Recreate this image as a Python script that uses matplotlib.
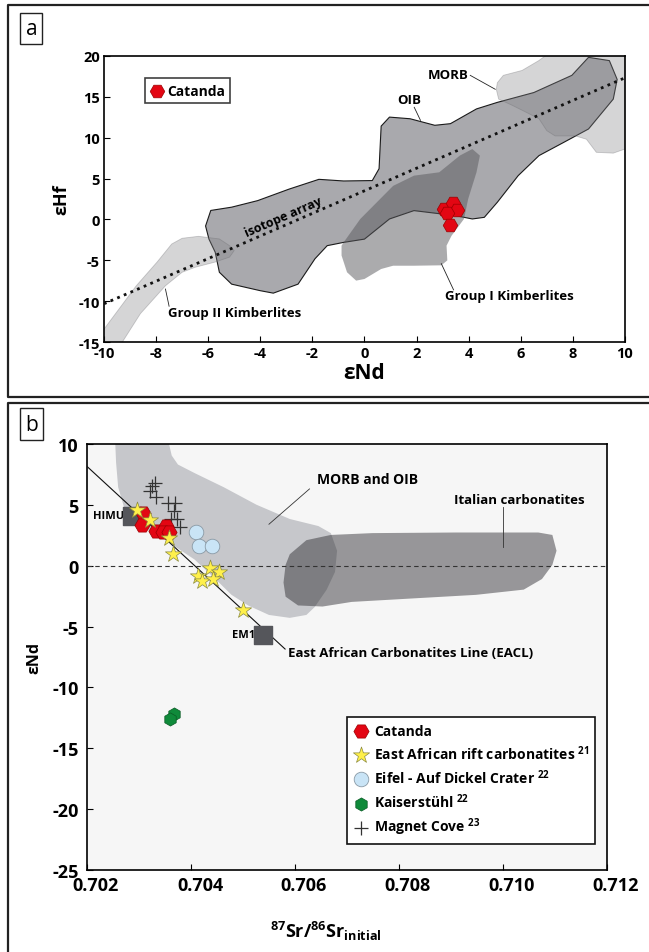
import numpy as np
import matplotlib.pyplot as plt
from matplotlib.patches import Polygon
from matplotlib.lines import Line2D
import matplotlib.transforms as mtransforms

plt.rcParams['font.family'] = ['Open Sans', 'DejaVu Sans']
plt.rcParams['mathtext.fontset'] = 'custom'
plt.rcParams['mathtext.rm'] = 'Open Sans:bold'
plt.rcParams['mathtext.bf'] = 'Open Sans:bold'
plt.rcParams['axes.unicode_minus'] = False

# ---------------- panel a data (eNd vs eHf) ----------------
oib_field = [(-6.1, -0.8), (-5.9, 1.1), (-5.1, 1.5), (-4.1, 2.3), (-2.9, 3.7), (-1.75, 4.9),
             (-0.8, 4.7), (0.3, 4.75), (0.56, 6.2), (0.64, 11.4), (0.96, 12.5), (1.75, 12.3),
             (2.7, 11.5), (3.3, 11.7), (4.3, 13.5), (5.1, 14.3), (6.5, 15.5), (7.96, 17.6),
             (8.6, 19.8), (9.4, 19.4), (9.7, 17.1), (9.55, 14.7), (8.6, 11.05), (7.64, 9.4),
             (6.7, 7.8), (5.9, 5.35), (5.1, 2.1), (4.6, 0.26), (4.14, 0.06), (3.5, 0.46),
             (1.9, 1.08), (0.96, 0.06), (0.0, -2.4), (-0.8, -2.8), (-1.43, -3.2), (-1.9, -4.8),
             (-2.55, -7.9), (-3.5, -9.0), (-4.0, -8.7), (-5.1, -7.9), (-5.57, -6.45),
             (-5.73, -4.0), (-5.97, -2.4)]
group1_field = [(-0.8, -2.8), (-0.16, 0.06), (1.1, 4.1), (1.9, 5.35), (2.87, 5.76), (3.66, 7.8),
                (4.14, 8.6), (4.43, 7.8), (4.3, 5.76), (3.98, 2.5), (3.82, 0.06), (3.34, -2.0),
                (3.15, -3.2), (3.18, -5.0), (2.95, -5.6), (1.9, -5.65), (1.1, -5.65),
                (0.64, -6.05), (0.0, -7.27), (-0.32, -7.47), (-0.67, -6.45), (-0.88, -4.4),
                (-0.88, -3.2)]
morb_field = [(5.1, 16.7), (5.33, 17.6), (6.05, 18.2), (6.69, 19.4), (7.17, 20.5), (10.5, 20.5),
              (10.5, 8.6), (10.0, 8.6), (9.55, 8.1), (8.9, 8.2), (8.52, 9.8), (8.1, 10.2),
              (7.32, 10.2), (7.0, 10.84), (6.7, 12.3), (5.7, 13.9), (5.15, 14.7), (5.06, 15.9)]
group2_field = [(-10.5, -12.5), (-10.0, -13.4), (-8.76, -8.1), (-7.96, -5.2), (-7.4, -3.0),
                (-7.0, -2.3), (-6.37, -2.06), (-5.57, -2.38), (-5.18, -3.2), (-5.0, -3.8),
                (-5.18, -4.6), (-5.73, -5.2), (-6.5, -5.84), (-7.0, -6.45), (-7.64, -8.1),
                (-8.6, -11.5), (-9.4, -15.5), (-10.5, -15.5)]
array_nd = [-10, 10]
array_hf = [-10.3, 17.3]
catanda_nd_a = [3.04, 3.40, 3.57, 3.17, 3.30]
catanda_hf_a = [1.24, 1.97, 1.15, 0.83, -0.72]

# ---------------- panel b data (Sr vs eNd) ----------------
morb_oib_field = [(0.70254, 10.5), (0.70355, 10.5), (0.70363, 9.04), (0.70375, 8.3), (0.70407, 7.6),
                  (0.70463, 6.44), (0.70526, 5.0), (0.7059, 3.83), (0.70645, 3.25), (0.70669, 2.67),
                  (0.70681, 1.22), (0.70677, -0.52), (0.70661, -1.97), (0.70638, -3.4),
                  (0.70622, -4.05), (0.7059, -4.29), (0.7055, -4.05), (0.7051, -3.27),
                  (0.70478, -2.4), (0.70447, -1.1), (0.70407, 0.5), (0.70351, 2.09),
                  (0.70303, 3.25), (0.70272, 4.7), (0.7026, 6.44), (0.70256, 8.46)]
italian_field = [(0.70582, 0.06), (0.7059, 0.93), (0.70622, 2.09), (0.70669, 2.52), (0.70749, 2.67),
                 (0.70908, 2.72), (0.71068, 2.72), (0.71095, 2.52), (0.71103, 1.22),
                 (0.71095, 0.06), (0.71075, -1.1), (0.7104, -1.97), (0.70948, -2.4),
                 (0.70828, -2.69), (0.70709, -2.98), (0.70653, -3.36), (0.70606, -3.27),
                 (0.70582, -2.55), (0.70578, -1.39)]
eacl_sr = [0.7020, 0.70581]
eacl_nd = [8.15, -6.85]
himu_sr, himu_nd = 0.70286, 4.1
em1_sr, em1_nd = 0.70538, -5.67

catanda_sr = [0.70308, 0.70305, 0.70333, 0.70352, 0.70346, 0.70358]
catanda_nd = [4.32, 3.36, 2.87, 3.23, 2.79, 2.79]
eafr_sr = [0.70297, 0.70321, 0.70358, 0.70366, 0.70437, 0.70453, 0.70414, 0.70422, 0.70442, 0.70501]
eafr_nd = [4.59, 3.77, 2.24, 0.95, -0.22, -0.55, -0.83, -1.24, -1.10, -3.62]
eifel_sr = [0.70409, 0.70416, 0.70440]
eifel_nd = [2.73, 1.63, 1.63]
kaiser_sr = [0.70367, 0.70359]
kaiser_nd = [-12.2, -12.6]
magnet_sr = [0.70331, 0.70326, 0.70322, 0.70333, 0.70356, 0.70369, 0.70367, 0.70374, 0.70361, 0.70379]
magnet_nd = [6.76, 6.51, 6.15, 5.60, 5.14, 5.14, 4.51, 3.83, 3.83, 3.14]

fig = plt.figure(figsize=(6.49, 9.53), dpi=100)

# panel frames and letters
fig.add_artist(Line2D([1.02, 0.0123, 0.0123, 1.02], [0.9937, 0.9937, 0.5824, 0.5824],
                      transform=fig.transFigure, color='#222222', lw=1.6))
fig.add_artist(Line2D([1.02, 0.0123, 0.0123], [0.5766, 0.5766, -0.02],
                      transform=fig.transFigure, color='#222222', lw=1.6))
for lab, yy in [('a', 0.969), ('b', 0.554)]:
    fig.text(0.0485, yy, lab, fontsize=15, ha='center', va='center',
             bbox=dict(boxstyle='square,pad=0.25', fc='white', ec='#222222', lw=1.0))

# ================= panel a =================
ax = fig.add_axes([0.1602, 0.6398, 0.8028, 0.3007])
ax.add_patch(Polygon(oib_field, closed=True, fc='#a9a9ad', ec='#1a1a1a', lw=0.8, zorder=1))
ax.add_patch(Polygon(group1_field, closed=True, fc='#58585c', ec='none', alpha=0.5, zorder=2))
ax.add_patch(Polygon(morb_field, closed=True, fc='#858589', ec='#6a6a6e', lw=0.6, alpha=0.34, zorder=2))
ax.add_patch(Polygon(group2_field, closed=True, fc='#858589', ec='#6a6a6e', lw=0.6, alpha=0.34, zorder=2))
ax.plot(array_nd, array_hf, ls=(0, (1, 1.6)), color='#111111', lw=2.0, zorder=3)
ax.scatter(catanda_nd_a, catanda_hf_a, marker='H', s=110, c='#e30613', edgecolors='#9a0000',
           linewidths=0.5, zorder=5, label='Catanda')

ax.text(-3.1, 0.4, 'isotope array', rotation=23.5, fontsize=9, ha='center', va='center',
        rotation_mode='anchor', fontweight='bold')
ax.text(3.2, 17.7, 'MORB', fontsize=9.5, ha='center', va='center', fontweight='bold')
ax.plot([4.06, 5.02], [17.6, 15.9], color='#222222', lw=0.6)
ax.text(1.72, 14.7, 'OIB', fontsize=9.5, ha='center', va='center', fontweight='bold')
ax.plot([1.91, 2.15], [13.7, 12.1], color='#222222', lw=0.6)
ax.text(-5.0, -11.4, 'Group II Kimberlites', fontsize=9.5, ha='center', va='center', fontweight='bold')
ax.plot([-7.5, -7.64], [-10.6, -8.5], color='#222222', lw=0.6)
ax.text(5.57, -9.3, 'Group I Kimberlites', fontsize=9.5, ha='center', va='center', fontweight='bold')
ax.plot([3.42, 2.95], [-8.6, -5.4], color='#222222', lw=0.6)

leg = ax.legend(loc='upper left', bbox_to_anchor=(0.078, 0.922), frameon=True,
                prop={'size': 10, 'weight': 'bold'},
                fancybox=False, edgecolor='#111111', handletextpad=0.2, borderpad=0.4,
                handlelength=1.0, borderaxespad=0)
leg.get_frame().set_linewidth(1.2)

ax.set_xlim(-10, 10)
ax.set_ylim(-15, 20)
ax.set_xticks(np.arange(-10, 11, 2))
ax.set_yticks(np.arange(-15, 21, 5))
ax.tick_params(direction='in', length=4, width=0.8, labelsize=10.5, pad=3)
for t in ax.get_xticklabels() + ax.get_yticklabels():
    t.set_fontweight('bold')
for s in ax.spines.values():
    s.set_linewidth(1.2)
ax.set_xlabel('εNd', fontsize=15, fontweight='bold', labelpad=1)
ax.set_ylabel('εHf', fontsize=13, fontweight='bold', labelpad=6)

# ================= panel b =================
bx = fig.add_axes([0.134, 0.0860, 0.8012, 0.4472])
bx.set_facecolor('#f6f6f6')
bx.add_patch(Polygon(morb_oib_field, closed=True, fc='#c6c7cb', ec='none', zorder=1))
bx.add_patch(Polygon(italian_field, closed=True, fc='#27262b', ec='none', alpha=0.46, zorder=2))
bx.axhline(0, color='#333333', lw=0.8, ls=(0, (4, 3)), zorder=3)
bx.plot(eacl_sr, eacl_nd, color='#111111', lw=0.8, zorder=3)
bx.scatter([himu_sr, em1_sr], [himu_nd, em1_nd], marker='s', s=170, c='#55565b', zorder=4)
bx.text(himu_sr - 0.00015, himu_nd, 'HIMU', fontsize=8, fontweight='bold', ha='right', va='center')
bx.text(em1_sr - 0.00015, em1_nd, 'EM1', fontsize=8, fontweight='bold', ha='right', va='center')
bx.text(0.70587, -7.1, 'East African Carbonatites Line (EACL)', fontsize=9.5, ha='left', va='center',
        fontweight='bold')
bx.text(0.70739, 7.1, 'MORB and OIB', fontsize=10, ha='center', va='center', fontweight='bold')
bx.plot([0.70628, 0.7055], [6.3, 3.4], color='#333333', lw=0.6)
bx.text(0.71031, 5.4, 'Italian carbonatites', fontsize=9.5, ha='center', va='center', fontweight='bold')
bx.plot([0.71, 0.71], [4.8, 1.5], color='#333333', lw=0.6)

bx.scatter(magnet_sr, magnet_nd, marker='+', s=90, c='#333333', linewidths=0.9, zorder=5,
           label=r'Magnet Cove $^{23}$')
bx.scatter(eifel_sr, eifel_nd, marker='o', s=110, c='#c9e4f6', edgecolors='#8a9aa6',
           linewidths=0.6, zorder=5, label=r'Eifel - Auf Dickel Crater $^{22}$')
bx.scatter(catanda_sr, catanda_nd, marker='H', s=120, c='#e30613', edgecolors='#9a0000',
           linewidths=0.5, zorder=6, label='Catanda')
bx.scatter(eafr_sr, eafr_nd, marker='*', s=150, c='#fff04a', edgecolors='#8a8a40',
           linewidths=0.5, zorder=7, label=r'East African rift carbonatites $^{21}$')
bx.scatter(kaiser_sr, kaiser_nd, marker='h', s=90, c='#0f8a3a', edgecolors='#0a5a25',
           linewidths=0.5, zorder=6, label=r'Kaiserstühl $^{22}$')

h, l = bx.get_legend_handles_labels()
order = [2, 3, 1, 4, 0]
leg2 = bx.legend([h[i] for i in order], [l[i] for i in order], loc='upper left',
                 bbox_to_anchor=(0.4996, 0.358), prop={'size': 10, 'weight': 'bold'},
                 frameon=True, fancybox=False,
                 edgecolor='#111111', facecolor='white', framealpha=1, handletextpad=0.3,
                 borderpad=0.45, labelspacing=0.4, handlelength=1.2, borderaxespad=0)
leg2.get_frame().set_linewidth(1.2)

bx.set_xlim(0.702, 0.712)
bx.set_ylim(-25, 10)
bx.set_xticks([0.702, 0.704, 0.706, 0.708, 0.710, 0.712])
bx.set_xticklabels(['0.702', '0.704', '0.706', '0.708', '0.710', '0.712'])
bx.set_yticks(np.arange(-25, 11, 5))
bx.tick_params(direction='in', length=4, width=0.8, labelsize=13, pad=4)
bx.tick_params(axis='y', pad=6)
offset = mtransforms.ScaledTranslation(9 / 100, 0, fig.dpi_scale_trans)
for t in bx.get_xticklabels():
    t.set_fontweight('bold')
    t.set_transform(t.get_transform() + offset)
for t in bx.get_yticklabels():
    t.set_fontweight('bold')
for s in bx.spines.values():
    s.set_linewidth(1.2)
bx.set_ylabel('εNd', fontsize=11.5, fontweight='bold', labelpad=7)
bx.set_xlabel(r'$^{87}$Sr/$^{86}$Sr$_{\mathregular{initial}}$', fontsize=13, fontweight='bold')
bx.xaxis.set_label_coords(0.46, -0.115)

fig.savefig('out.png', dpi=100)
